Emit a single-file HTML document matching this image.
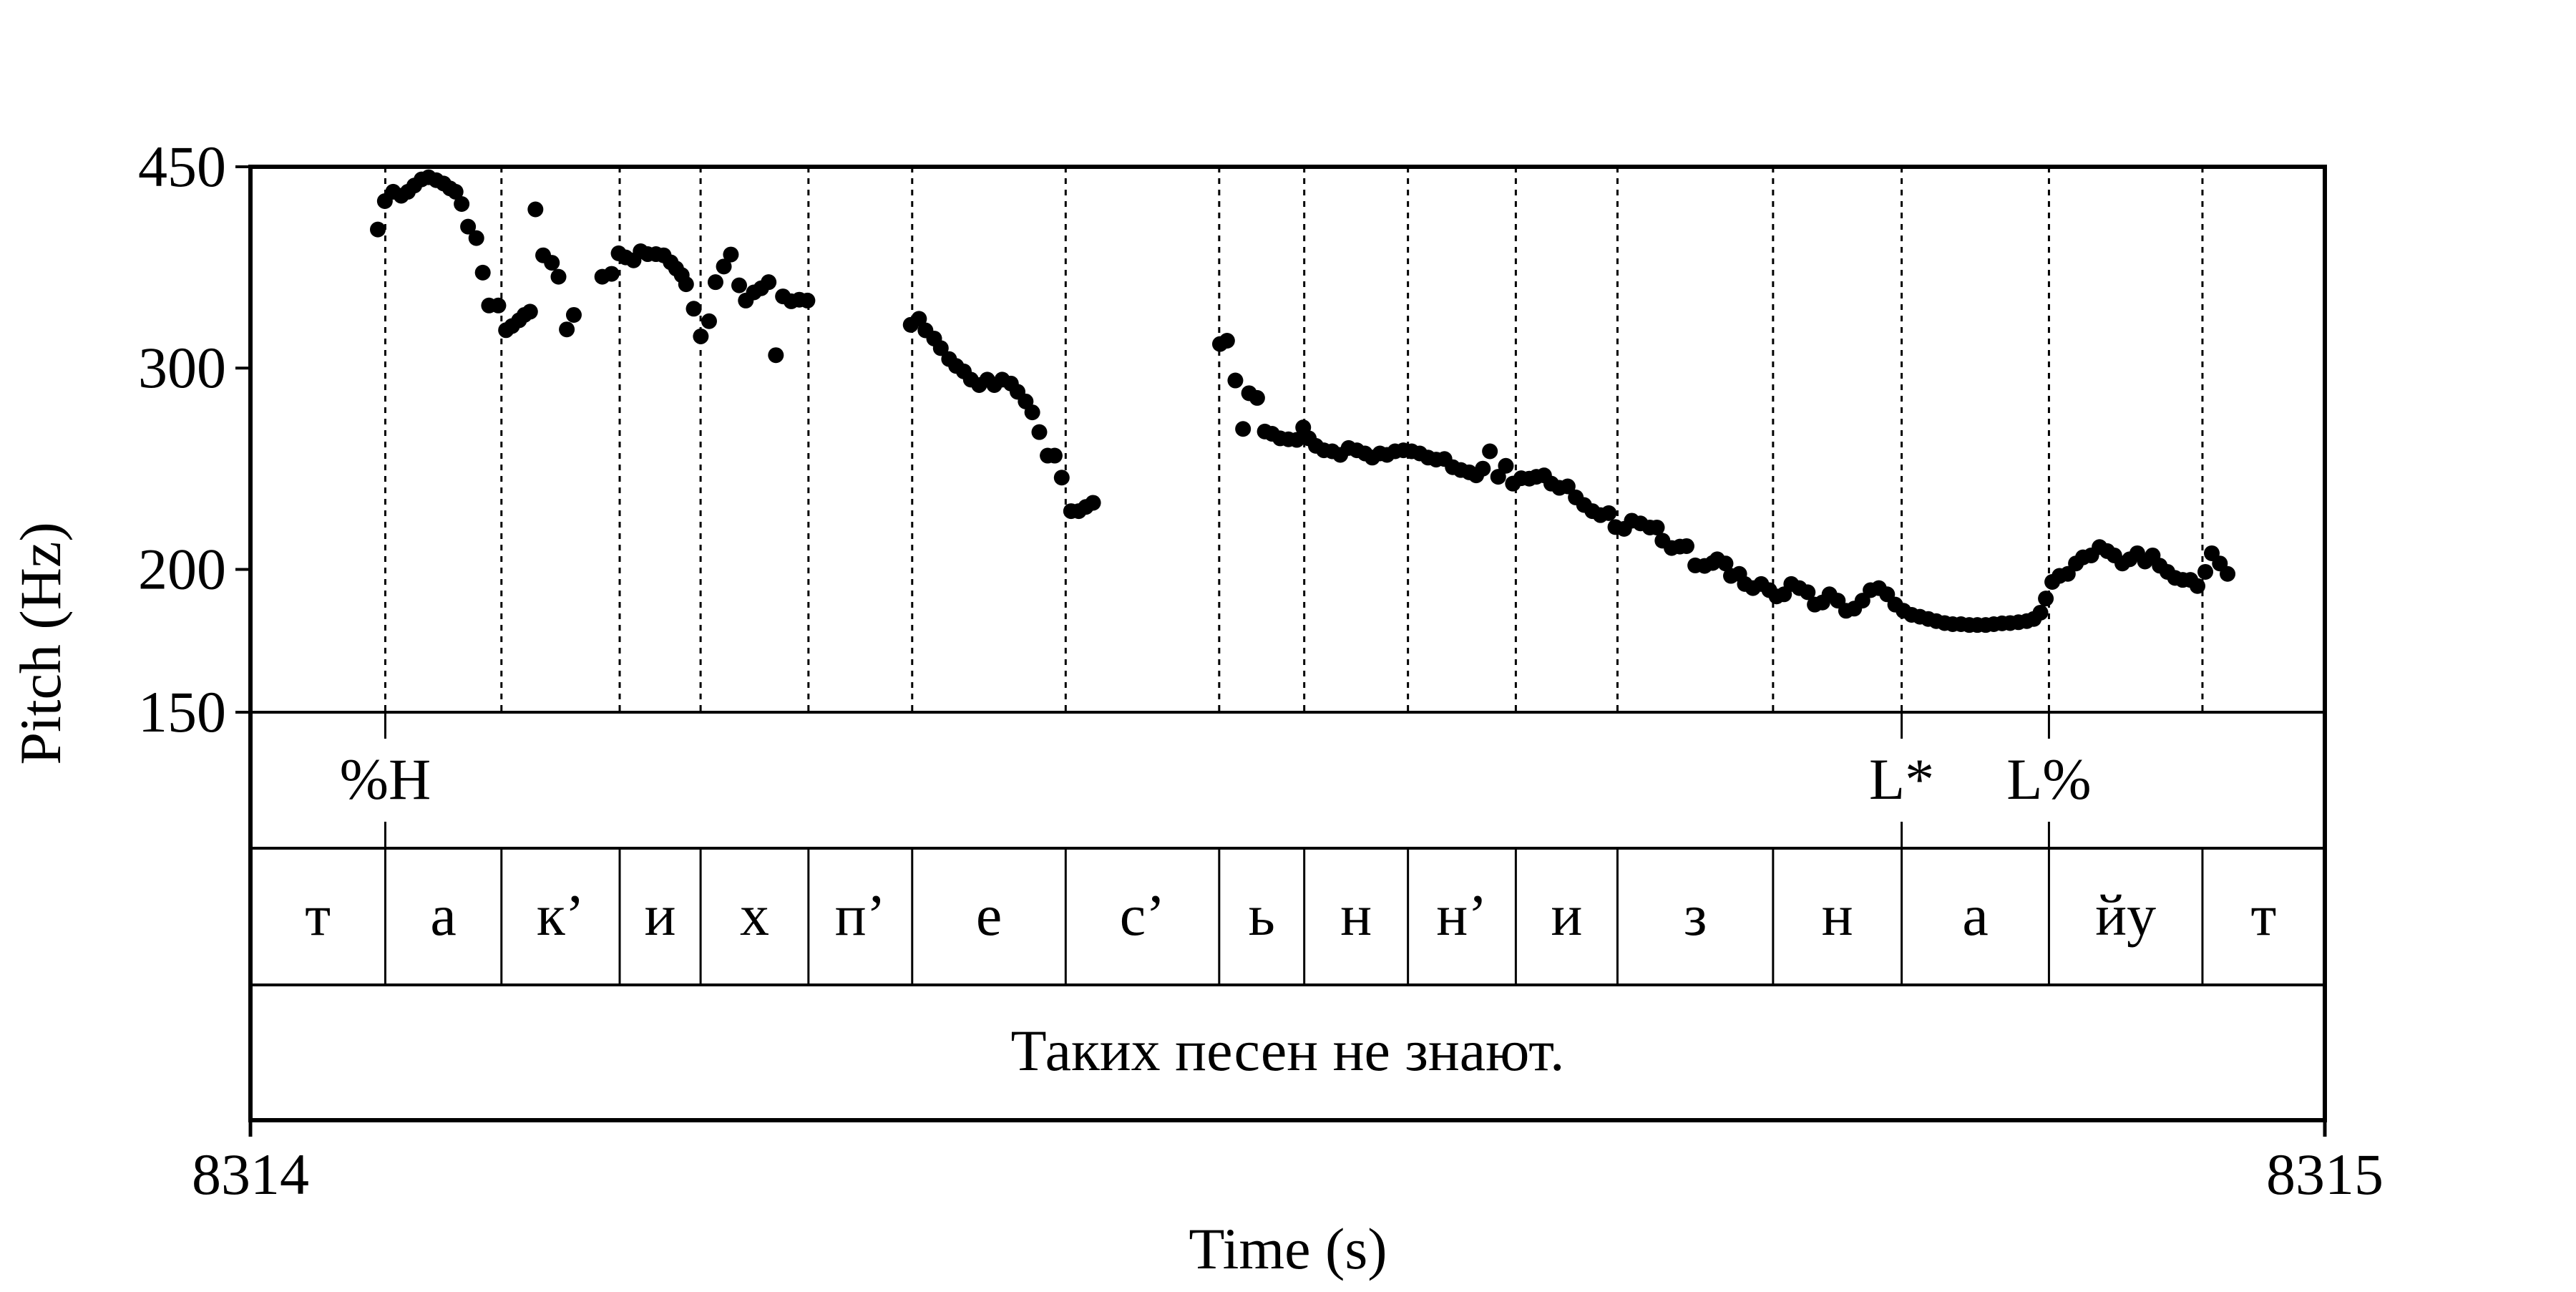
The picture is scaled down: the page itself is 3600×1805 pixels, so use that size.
<!DOCTYPE html>
<html><head><meta charset="utf-8"><style>
html,body{margin:0;padding:0;background:#fff;}
svg text{font-family:"Liberation Serif","Noto Serif CJK SC",serif;fill:#000;}
</style></head><body>
<svg id="chart" width="3600" height="1800" viewBox="0 0 3600 1800" xmlns="http://www.w3.org/2000/svg">
<g id="grid"></g>
<g id="dots"></g>
<g id="axes"></g>
<g id="tiers"></g>
</svg>
<script>
const yTicks=[450,300,200,150];
const xTickLabels=["8314","8315"];
const boundaries=[0.065,0.121,0.178,0.217,0.269,0.319,0.393,0.467,0.508,0.558,0.610,0.659,0.734,0.796,0.867,0.941];
const segLabels=["т","а","к’","и","х","п’","е","с’","ь","н","н’","и","з","н","а","йу","т"];
const toneTimes=[0.065,0.796,0.867];
const toneLabels=["%H","L*","L%"];
const sentence="Таких песен не знают.";
const pitchT=[0.0614,0.0648,0.0688,0.0727,0.0759,0.0790,0.0825,0.0859,0.0896,0.0931,0.0962,0.0989,0.1018,0.1049,0.1089,0.1120,0.1150,0.1195,0.1232,0.1261,0.1295,0.1321,0.1348,0.1374,0.1411,0.1453,0.1485,0.1525,0.1559,0.1696,0.1741,0.1775,0.1809,0.1847,0.1881,0.1915,0.1955,0.1992,0.2026,0.2052,0.2079,0.2100,0.2137,0.2171,0.2211,0.2242,0.2282,0.2316,0.2356,0.2388,0.2427,0.2462,0.2498,0.2533,0.2567,0.2607,0.2646,0.2685,
0.3183,0.3223,0.3254,0.3296,0.3328,0.3368,0.3402,0.3439,0.3473,0.3513,0.3552,0.3586,0.3624,0.3666,0.3698,0.3737,0.3769,0.3803,0.3843,0.3877,0.3911,0.3956,0.3993,0.4027,0.4062,
0.4674,0.4708,0.4748,0.4785,0.4814,0.4853,0.4890,0.4925,0.4964,0.5004,0.5044,0.5075,0.5102,0.5136,0.5175,0.5215,0.5254,0.5294,0.5334,0.5373,0.5408,0.5445,0.5479,0.5518,0.5558,0.5598,0.5637,0.5677,0.5716,0.5756,0.5796,0.5835,0.5875,0.5909,0.5941,0.5975,0.6015,0.6052,0.6086,0.6126,0.6165,0.6199,0.6236,0.6271,0.6310,0.6350,0.6389,0.6429,0.6469,0.6508,0.6548,0.6580,0.6622,0.6659,0.6701,0.6746,0.6780,0.6807,0.6851,0.6891,0.6923,0.6965,0.7010,0.7049,
0.7071,0.7111,0.7137,0.7177,0.7204,0.7243,0.7283,0.7322,0.7357,0.7393,0.7428,0.7467,0.7507,0.7541,0.7578,0.7612,0.7652,0.7692,0.7731,0.7771,0.7810,0.7850,0.7890,0.7929,0.7969,0.8008,0.8048,0.8088,0.8127,0.8167,0.8206,0.8246,0.8286,0.8325,0.8365,0.8404,0.8444,0.8483,0.8523,0.8563,0.8597,0.8629,0.8655,0.8686,0.8721,0.8761,0.8800,0.8834,0.8874,0.8914,0.8951,0.8985,0.9024,0.9059,0.9096,0.9133,0.9170,0.9204,0.9241,0.9278,0.9315,0.9352,0.9386,0.9424,0.9455,0.9494,0.9531];
const pitchHz=[396.6,419.9,427.9,424.5,427.9,433.3,438.7,440.6,438.0,435.1,430.8,427.9,417.5,398.9,389.8,363.6,340.3,340.3,323.8,326.5,330.3,333.9,336.1,413.0,376.5,370.9,360.6,324.3,333.9,360.6,362.7,378.0,374.9,372.7,379.6,377.4,377.4,376.5,371.2,366.6,361.8,355.2,338.1,319.8,329.7,356.7,368.1,377.1,354.4,343.7,349.4,352.3,356.7,307.9,346.6,343.2,344.3,343.7,
327.3,331.3,323.7,318.4,312.3,305.5,301.3,298.0,293.1,289.9,293.1,289.9,293.1,290.8,286.0,280.5,274.4,263.7,251.5,251.5,240.6,224.9,224.9,226.8,228.7,
314.9,317.0,292.6,265.4,285.2,282.5,264.0,262.8,260.4,259.9,259.6,266.2,260.4,256.5,254.2,253.7,251.9,255.4,254.2,252.6,250.5,252.6,251.9,253.7,254.2,253.7,252.6,250.5,249.5,249.8,245.7,244.3,243.2,241.7,245.0,253.7,241.0,246.4,237.7,240.3,240.1,241.0,241.7,237.7,235.7,236.4,231.2,227.7,224.9,223.1,224.0,217.8,217.0,220.6,219.4,217.6,217.6,211.9,208.8,209.4,209.6,201.6,201.4,202.6,
204.1,202.4,197.4,198.2,194.2,192.6,194.2,191.8,189.4,190.2,194.2,192.6,191.0,186.3,187.1,190.2,187.8,184.0,184.8,187.8,191.8,192.6,190.2,186.3,184.0,182.5,181.8,181.0,180.2,179.5,179.1,179.1,178.8,178.8,178.8,179.1,179.4,179.5,179.8,180.2,181.0,183.3,188.6,195.0,197.4,198.2,202.4,204.9,205.7,209.2,207.5,205.7,202.4,204.1,206.6,203.2,205.7,201.5,199.0,196.6,195.8,195.8,193.4,199.0,206.6,202.4,198.2];

const NS="http://www.w3.org/2000/svg";
const L=350,R=3249,TOP=233,PB=995,T1=1185,T2=1376,T3=1565;
const yMin=150,yMax=450;
function xS(t){return L+t*(R-L);}
function yS(hz){return PB-(Math.log(hz/yMin)/Math.log(yMax/yMin))*(PB-TOP);}
function mk(tag,attrs,parent,txt){const e=document.createElementNS(NS,tag);for(const k in attrs)e.setAttribute(k,attrs[k]);if(txt!==undefined)e.textContent=txt;parent.appendChild(e);return e;}
const grid=document.getElementById('grid'),dots=document.getElementById('dots'),axes=document.getElementById('axes'),tiers=document.getElementById('tiers');

boundaries.forEach(b=>{
  const ln=mk('line',{x1:xS(b),x2:xS(b),y1:TOP,y2:PB,stroke:'#000','stroke-width':3,'stroke-dasharray':'8 8'},grid);
  
  
});
toneTimes.forEach(b=>{
  if(boundaries.indexOf(b)<0){
    const ln=mk('line',{x1:xS(b),x2:xS(b),y1:TOP,y2:PB,stroke:'#000','stroke-width':3,'stroke-dasharray':'8 8'},grid);
    
    
  }
});

for(let i=0;i<pitchT.length;i++){
  const c=mk('ellipse',{cx:xS(pitchT[i]),cy:yS(pitchHz[i]),rx:11,ry:11,fill:'#000'},dots);
  
  
}

// frame
const fr=mk('rect',{x:L,y:TOP,width:R-L,height:T3-TOP,fill:'none',stroke:'#000','stroke-width':6},axes);


[PB,T1,T2].forEach(y=>{
  const ln=mk('line',{x1:L,x2:R,y1:y,y2:y,stroke:'#000','stroke-width':4},axes);
  
  
});
yTicks.forEach(v=>{
  const y=yS(v);
  const tk=mk('line',{x1:329,x2:L,y1:y,y2:y,stroke:'#000','stroke-width':4},axes);
  
  
  const tl=mk('text',{x:316,y:y+27,'font-size':82,'text-anchor':'end'},axes,String(v));
  
  
});
xTickLabels.forEach((s,i)=>{
  const x=i===0?L:R;
  const tk=mk('line',{x1:x,x2:x,y1:T3,y2:1588,stroke:'#000','stroke-width':5},axes);
  
  
  const tl=mk('text',{x:x,y:1668,'font-size':82,'text-anchor':'middle'},axes,s);
  
  
});
const xt=mk('text',{x:1800,y:1772,'font-size':82,'text-anchor':'middle'},axes,'Time (s)');


const yt=mk('text',{x:0,y:0,'font-size':82,'text-anchor':'middle',transform:'translate(84,899) rotate(-90)'},axes,'Pitch (Hz)');



// tone tier
toneTimes.forEach((t,i)=>{
  const x=xS(t);
  const a=mk('line',{x1:x,x2:x,y1:PB,y2:1032,stroke:'#000','stroke-width':3},tiers);
  
  
  const b=mk('line',{x1:x,x2:x,y1:1148,y2:T1,stroke:'#000','stroke-width':3},tiers);
  
  
  const tl=mk('text',{x:x,y:1116,'font-size':82,'text-anchor':'middle'},tiers,toneLabels[i]);
  
  
});
// segment tier
const edges=[0].concat(boundaries,[1]);
boundaries.forEach(b=>{
  const ln=mk('line',{x1:xS(b),x2:xS(b),y1:T1,y2:T2,stroke:'#000','stroke-width':3},tiers);
  
  
});
segLabels.forEach((s,i)=>{
  const tl=mk('text',{x:(xS(edges[i])+xS(edges[i+1]))/2,y:1306,'font-size':82,'text-anchor':'middle'},tiers,s);
  
  
});
const st=mk('text',{x:(L+R)/2,y:1495,'font-size':82,'text-anchor':'middle'},tiers,sentence);


</script>
</body></html>
